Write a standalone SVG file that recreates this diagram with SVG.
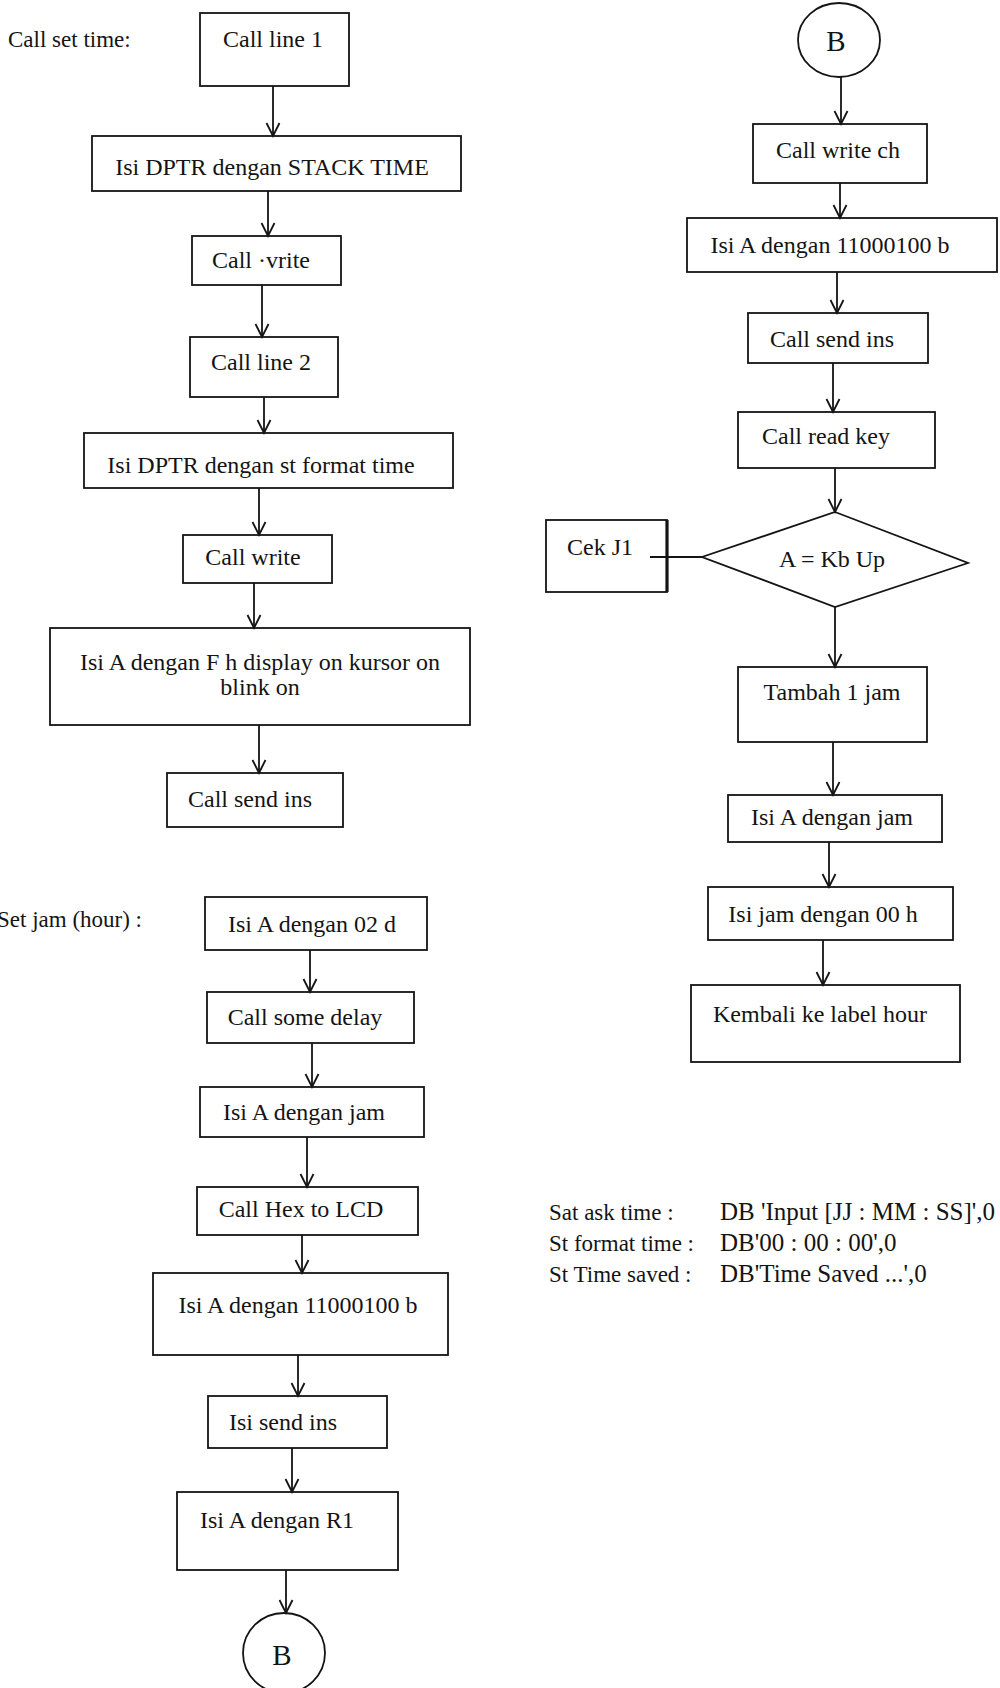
<svg xmlns="http://www.w3.org/2000/svg" width="1000" height="1688" viewBox="0 0 1000 1688">
  <style>
    .box { fill: none; stroke: #141414; stroke-width: 1.8; }
    .lbl { font-family: "Liberation Serif", "Times New Roman", serif; font-size: 24px; fill: #141414; }
    .mid { text-anchor: middle; }
    .note { font-family: "Liberation Serif", "Times New Roman", serif; font-size: 23px; fill: #141414; }
    .val { font-family: "Liberation Serif", "Times New Roman", serif; font-size: 25px; fill: #141414; }
    .conn { fill: none; stroke: #141414; stroke-width: 1.8; }
    .big { font-family: "Liberation Serif", "Times New Roman", serif; font-size: 29px; fill: #141414; text-anchor: middle; }
  </style>
  <defs>
    <marker id="vhead" markerUnits="userSpaceOnUse" markerWidth="16" markerHeight="16" viewBox="0 0 16 16" refX="14" refY="8" orient="auto">
      <path d="M1,1.5 L14,8 L1,14.5" fill="none" stroke="#141414" stroke-width="1.8"/>
    </marker>
  </defs>
  <rect x="0" y="0" width="1000" height="1688" fill="#ffffff"/>

  <!-- section labels -->
  <text class="note" x="8" y="47">Call set time:</text>
  <text class="note" x="142" y="927" text-anchor="end">Set jam (hour) :</text>

  <!-- left column: set time routine -->
  <g id="n-call-line1"><rect class="box" x="200" y="13" width="149" height="73"/><text class="lbl mid" x="273" y="47">Call line 1</text></g>
  <g id="n-dptr-stack"><rect class="box" x="92" y="136" width="369" height="55"/><text class="lbl mid" x="272" y="175">Isi DPTR dengan STACK TIME</text></g>
  <g id="n-call-write1"><rect class="box" x="192" y="236" width="149" height="49"/><text class="lbl mid" x="261" y="268">Call ·vrite</text></g>
  <g id="n-call-line2"><rect class="box" x="190" y="337" width="148" height="60"/><text class="lbl mid" x="261" y="370">Call line 2</text></g>
  <g id="n-dptr-format"><rect class="box" x="84" y="433" width="369" height="55"/><text class="lbl mid" x="261" y="473">Isi DPTR dengan st format time</text></g>
  <g id="n-call-write2"><rect class="box" x="183" y="535" width="149" height="48"/><text class="lbl mid" x="253" y="565">Call write</text></g>
  <g id="n-display-on"><rect class="box" x="50" y="628" width="420" height="97"/><text class="lbl mid" x="260" y="670">Isi A dengan F h display on kursor on</text><text class="lbl mid" x="260" y="695">blink on</text></g>
  <g id="n-send-ins1"><rect class="box" x="167" y="773" width="176" height="54"/><text class="lbl mid" x="250" y="807">Call send ins</text></g>

  <!-- left column: set hour routine -->
  <g id="n-a-02d"><rect class="box" x="205" y="897" width="222" height="53"/><text class="lbl mid" x="312" y="932">Isi A dengan 02 d</text></g>
  <g id="n-delay"><rect class="box" x="207" y="992" width="207" height="51"/><text class="lbl mid" x="305" y="1025">Call some delay</text></g>
  <g id="n-a-jam1"><rect class="box" x="200" y="1087" width="224" height="50"/><text class="lbl mid" x="304" y="1120">Isi A dengan jam</text></g>
  <g id="n-hex-lcd"><rect class="box" x="197" y="1187" width="221" height="48"/><text class="lbl mid" x="301" y="1217">Call Hex to LCD</text></g>
  <g id="n-a-bin1"><rect class="box" x="153" y="1273" width="295" height="82"/><text class="lbl mid" x="298" y="1313">Isi A dengan 11000100 b</text></g>
  <g id="n-isi-send"><rect class="box" x="208" y="1396" width="179" height="52"/><text class="lbl mid" x="283" y="1430">Isi send ins</text></g>
  <g id="n-a-r1"><rect class="box" x="177" y="1492" width="221" height="78"/><text class="lbl mid" x="277" y="1528">Isi A dengan R1</text></g>
  <g id="n-b-out"><ellipse class="box" cx="284" cy="1653" rx="41" ry="40"/><text class="big" x="282" y="1665">B</text></g>

  <!-- right column -->
  <g id="n-b-in"><ellipse class="box" cx="839" cy="40" rx="41" ry="37"/><text class="big" x="836" y="51">B</text></g>
  <g id="n-write-ch"><rect class="box" x="753" y="124" width="174" height="59"/><text class="lbl mid" x="838" y="158">Call write ch</text></g>
  <g id="n-a-bin2"><rect class="box" x="687" y="218" width="310" height="54"/><text class="lbl mid" x="830" y="253">Isi A dengan 11000100 b</text></g>
  <g id="n-send-ins2"><rect class="box" x="748" y="313" width="180" height="50"/><text class="lbl mid" x="832" y="347">Call send ins</text></g>
  <g id="n-read-key"><rect class="box" x="738" y="412" width="197" height="56"/><text class="lbl mid" x="826" y="444">Call read key</text></g>
  <g id="n-kb-up"><path class="box" d="M835,512 L968,563 L835,607 L702,557 Z"/><text class="lbl mid" x="832" y="567">A = Kb Up</text></g>
  <g id="n-cek-j1"><rect class="box" x="546" y="520" width="121" height="72"/><line x1="667" y1="520" x2="667" y2="592" stroke="#141414" stroke-width="3.2"/><text class="lbl mid" x="600" y="555">Cek J1</text></g>
  <g id="n-tambah"><rect class="box" x="738" y="667" width="189" height="75"/><text class="lbl mid" x="832" y="700">Tambah 1 jam</text></g>
  <g id="n-a-jam2"><rect class="box" x="728" y="795" width="214" height="47"/><text class="lbl mid" x="832" y="825">Isi A dengan jam</text></g>
  <g id="n-jam-00"><rect class="box" x="708" y="887" width="245" height="53"/><text class="lbl mid" x="823" y="922">Isi jam dengan 00 h</text></g>
  <g id="n-kembali"><rect class="box" x="691" y="985" width="269" height="77"/><text class="lbl mid" x="820" y="1022">Kembali ke label hour</text></g>

  <!-- string constants -->
  <g id="n-strings">
    <text class="note" x="549" y="1220">Sat ask time :</text>
    <text class="note" x="549" y="1251">St format time :</text>
    <text class="note" x="549" y="1282">St Time saved :</text>
    <text class="val" x="720" y="1220">DB 'Input [JJ : MM : SS]',0</text>
    <text class="val" x="720" y="1251">DB'00 : 00 : 00',0</text>
    <text class="val" x="720" y="1282">DB'Time Saved ...',0</text>
  </g>

  <!-- connectors -->
  <g id="connectors">
    <line class="conn" x1="273" y1="86" x2="273" y2="136" marker-end="url(#vhead)"/>
    <line class="conn" x1="268" y1="191" x2="268" y2="236" marker-end="url(#vhead)"/>
    <line class="conn" x1="262" y1="285" x2="262" y2="337" marker-end="url(#vhead)"/>
    <line class="conn" x1="264" y1="397" x2="264" y2="433" marker-end="url(#vhead)"/>
    <line class="conn" x1="259" y1="488" x2="259" y2="535" marker-end="url(#vhead)"/>
    <line class="conn" x1="254" y1="583" x2="254" y2="628" marker-end="url(#vhead)"/>
    <line class="conn" x1="259" y1="725" x2="259" y2="773" marker-end="url(#vhead)"/>

    <line class="conn" x1="310" y1="950" x2="310" y2="992" marker-end="url(#vhead)"/>
    <line class="conn" x1="312" y1="1043" x2="312" y2="1087" marker-end="url(#vhead)"/>
    <line class="conn" x1="307" y1="1137" x2="307" y2="1187" marker-end="url(#vhead)"/>
    <line class="conn" x1="302" y1="1235" x2="302" y2="1273" marker-end="url(#vhead)"/>
    <line class="conn" x1="298" y1="1355" x2="298" y2="1396" marker-end="url(#vhead)"/>
    <line class="conn" x1="292" y1="1448" x2="292" y2="1492" marker-end="url(#vhead)"/>
    <line class="conn" x1="286" y1="1570" x2="286" y2="1613" marker-end="url(#vhead)"/>

    <line class="conn" x1="841" y1="77" x2="841" y2="124" marker-end="url(#vhead)"/>
    <line class="conn" x1="840" y1="183" x2="840" y2="218" marker-end="url(#vhead)"/>
    <line class="conn" x1="837" y1="272" x2="837" y2="313" marker-end="url(#vhead)"/>
    <line class="conn" x1="833" y1="363" x2="833" y2="412" marker-end="url(#vhead)"/>
    <line class="conn" x1="835" y1="468" x2="835" y2="512" marker-end="url(#vhead)"/>
    <line class="conn" x1="702" y1="557" x2="650" y2="557"/>
    <line class="conn" x1="835" y1="607" x2="835" y2="667" marker-end="url(#vhead)"/>
    <line class="conn" x1="833" y1="742" x2="833" y2="795" marker-end="url(#vhead)"/>
    <line class="conn" x1="829" y1="842" x2="829" y2="887" marker-end="url(#vhead)"/>
    <line class="conn" x1="823" y1="940" x2="823" y2="985" marker-end="url(#vhead)"/>
  </g>
</svg>
